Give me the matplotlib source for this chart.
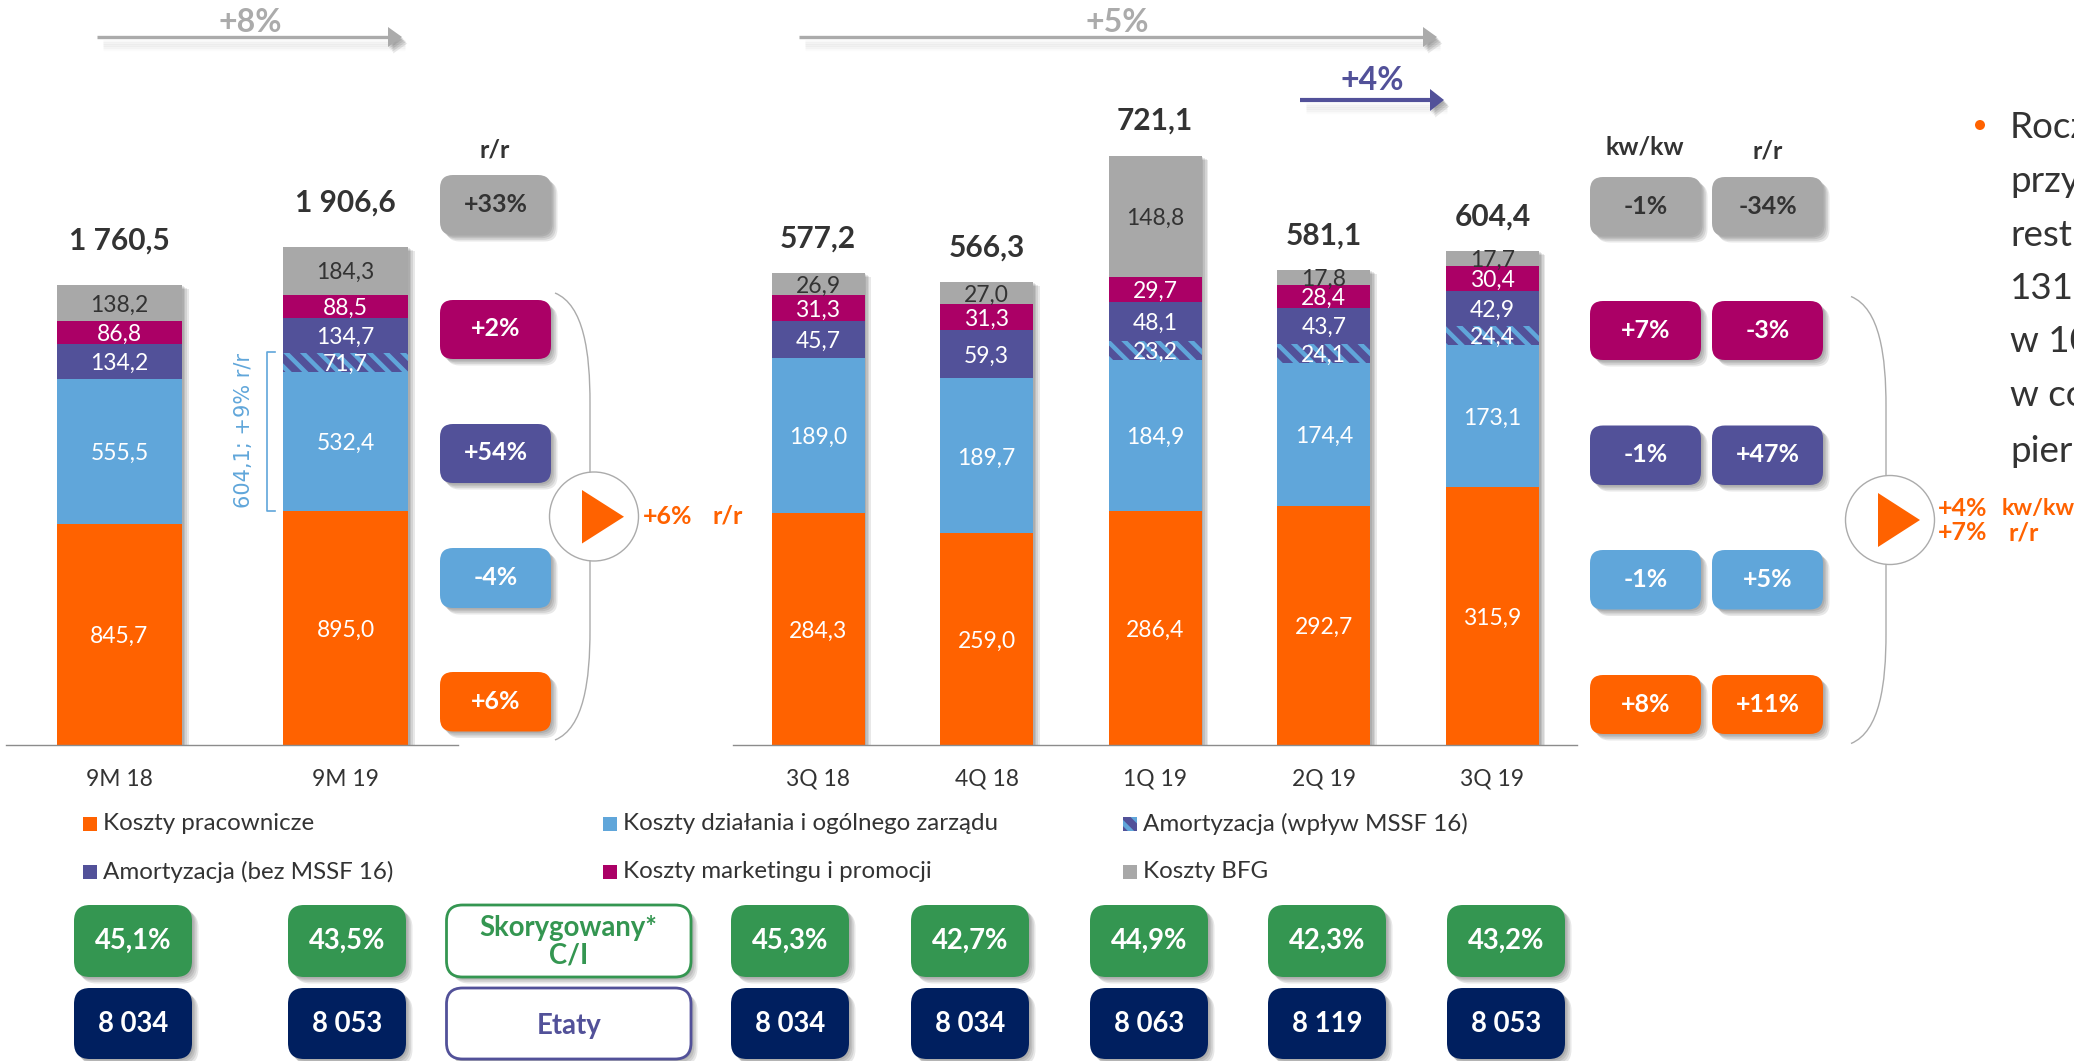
import matplotlib
matplotlib.use("Agg")
import matplotlib.pyplot as plt
from matplotlib.patches import FancyBboxPatch, Circle, Polygon, PathPatch, Rectangle
from matplotlib.path import Path
import matplotlib.patheffects as pe

FONT = "Lato"
plt.rcParams["font.family"] = [FONT, "DejaVu Sans"]
plt.rcParams["hatch.linewidth"] = 3.2

W, H = 2074, 1061
px = 72 / 100  # pixels to points

# ---------- data ----------
left_cats = ["9M 18", "9M 19"]
left_pers = [845.7, 895.0]
left_admin = [555.5, 532.4]
left_mssf = [0, 71.7]
left_amort = [134.2, 134.7]
left_mark = [86.8, 88.5]
left_bfg = [138.2, 184.3]
left_totals = ["1 760,5", "1 906,6"]

right_cats = ["3Q 18", "4Q 18", "1Q 19", "2Q 19", "3Q 19"]
right_pers = [284.3, 259.0, 286.4, 292.7, 315.9]
right_admin = [189.0, 189.7, 184.9, 174.4, 173.1]
right_mssf = [0, 0, 23.2, 24.1, 24.4]
right_amort = [45.7, 59.3, 48.1, 43.7, 42.9]
right_mark = [31.3, 31.3, 29.7, 28.4, 30.4]
right_bfg = [26.9, 27.0, 148.8, 17.8, 17.7]
right_totals = ["577,2", "566,3", "721,1", "581,1", "604,4"]

left_rr = ["+33%", "+2%", "+54%", "-4%", "+6%"]
right_kk = ["-1%", "+7%", "-1%", "-1%", "+8%"]
right_rr = ["-34%", "-3%", "+47%", "+5%", "+11%"]
ci_vals = ["45,1%", "43,5%", "45,3%", "42,7%", "44,9%", "42,3%", "43,2%"]
fte_vals = ["8 034", "8 053", "8 034", "8 034", "8 063", "8 119", "8 053"]
legend_labels = ["Koszty pracownicze", "Koszty działania i ogólnego zarządu", "Amortyzacja (wpływ MSSF 16)",
                 "Amortyzacja (bez MSSF 16)", "Koszty marketingu i promocji", "Koszty BFG"]
side_lines = ["Rocz", "przy", "rest", "131", "w 10", "w co", "pier"]

ORANGE, BLUE, PURPLE, MAGENTA, GRAY = "#FF6200", "#60A6DA", "#525199", "#AB0066", "#A8A8A8"
GREEN, NAVY, TXT = "#349651", "#001F5F", "#333333"

fig = plt.figure(figsize=(W / 100, H / 100), dpi=100, facecolor="white")


def soft(dx=4, dy=4, n=4, a=0.09):
    eff = []
    for i in range(n, 0, -1):
        f = i / n
        eff.append(pe.SimplePatchShadow(offset=(dx * f * px * 1.3, -dy * f * px * 1.3), shadow_rgbFace="k", alpha=a, rho=1))
    eff.append(pe.Normal())
    return eff


def stacked(x0, x1, base_y, cats, unit_px, spacing, c0, series, totals, tot_off):
    ax = fig.add_axes([x0 / W, 1 - base_y / H, (x1 - x0) / W, base_y / H], facecolor="none")
    ax.set_xlim((x0 - c0) / spacing, (x1 - c0) / spacing)
    ax.set_ylim(0, base_y / unit_px)
    xs = list(range(len(cats)))
    bw = (125 if spacing > 200 else 93) / spacing
    grand = [sum(v) for v in zip(*[s[0] for s in series])]
    ax.bar(xs, grand, bw, color=GRAY, zorder=1, path_effects=soft(5, 3))
    bottom = [0] * len(cats)
    for vals, col, tcol, hatch in series:
        if hatch:
            plt.rcParams["hatch.color"] = BLUE
            ax.bar(xs, vals, bw, bottom=bottom, color=PURPLE, edgecolor=BLUE, hatch="\\\\", linewidth=0, zorder=2)
        else:
            ax.bar(xs, vals, bw, bottom=bottom, color=col, linewidth=0, zorder=2)
        for i, v in enumerate(vals):
            if v:
                ax.text(i, bottom[i] + v / 2, f"{v:.1f}".replace(".", ","), color=tcol, fontsize=16.5,
                        ha="center", va="center_baseline", zorder=5)
        bottom = [b + v for b, v in zip(bottom, vals)]
    for i, t in enumerate(totals):
        ax.annotate(t, (i, grand[i]), xytext=(0, tot_off * px), textcoords="offset points",
                    ha="center", va="center", fontsize=21.5, fontweight="bold", color=TXT, zorder=5)
    ax.set_xticks(xs, cats, fontsize=16.5, color=TXT)
    ax.tick_params(axis="x", length=0, pad=17)
    ax.set_yticks([])
    for s in ["top", "left", "right"]:
        ax.spines[s].set_visible(False)
    ax.spines["bottom"].set_color("#8C8C8C")
    ax.spines["bottom"].set_linewidth(1.0)
    return ax


stacked(6, 458, 745, left_cats, 0.2614, 226, 119.5,
        [(left_pers, ORANGE, "white", False), (left_admin, BLUE, "white", False), (left_mssf, PURPLE, "white", True),
         (left_amort, PURPLE, "white", False), (left_mark, MAGENTA, "white", False), (left_bfg, GRAY, TXT, False)],
        left_totals, 44)
stacked(733, 1577, 745, right_cats, 0.817, 168.6, 818,
        [(right_pers, ORANGE, "white", False), (right_admin, BLUE, "white", False), (right_mssf, PURPLE, "white", True),
         (right_amort, PURPLE, "white", False), (right_mark, MAGENTA, "white", False), (right_bfg, GRAY, TXT, False)],
        right_totals, 35)

# pixel overlay
ov = fig.add_axes([0, 0, 1, 1], facecolor="none")
ov.set_xlim(0, W)
ov.set_ylim(H, 0)
ov.axis("off")


def pill(x0, y0, x1, y1, fc, txt, tc="white", fs=18, ec="none", lw=0, r=13, shadow=(5, 5), ls=1.05, dy=-2.5):
    p = FancyBboxPatch((x0 + r, y0 + r), x1 - x0 - 2 * r, y1 - y0 - 2 * r, boxstyle=f"round,pad={r},rounding_size={r}",
                       fc=fc, ec=ec, lw=lw, zorder=3, path_effects=soft(*shadow))
    ov.add_patch(p)
    ov.text((x0 + x1) / 2, (y0 + y1) / 2 + dy, txt, color=tc, fontsize=fs, fontweight="bold",
            ha="center", va="center_baseline", zorder=4, linespacing=ls)


fills = [GRAY, MAGENTA, PURPLE, BLUE, ORANGE]
tcs = [TXT, "white", "white", "white", "white"]
for (y0, y1), f, tc, t in zip([(175, 235), (300, 359), (424, 483), (548, 608), (672, 731.5)], fills, tcs, left_rr):
    pill(440, y0, 551, y1, f, t, tc)
rows = [(177, 236), (301, 360), (425.5, 485), (550, 609.5), (675, 734)]
for (y0, y1), f, tc, a, b in zip(rows, fills, tcs, right_kk, right_rr):
    pill(1590, y0, 1701, y1, f, a, tc)
    pill(1712, y0, 1823, y1, f, b, tc)

for x, y, t in [(495, 150, "r/r"), (1645, 147, "kw/kw"), (1768, 151, "r/r")]:
    ov.text(x, y, t, fontsize=18, fontweight="bold", color=TXT, ha="center", va="center")


def brace(x_end, x_v, y0, y1, cy):
    v = [(x_end, y0), (x_v - 6, y0 + 12), (x_v, y0 + 60), (x_v, y0 + 110), (x_v, y1 - 110), (x_v, y1 - 60), (x_v - 6, y1 - 12), (x_end, y1)]
    c = [Path.MOVETO, Path.CURVE4, Path.CURVE4, Path.CURVE4, Path.LINETO, Path.CURVE4, Path.CURVE4, Path.CURVE4]
    ov.add_patch(PathPatch(Path(v, c), fc="none", ec="#ABABAB", lw=1.0, zorder=3))


def play(cx, cy, r, tx0, tx1, ty0, ty1):
    ov.add_patch(Circle((cx, cy), r, fc="white", ec="#ABABAB", lw=1.0, zorder=3.2))
    ov.add_patch(Polygon([(tx0, ty0), (tx1, (ty0 + ty1) / 2), (tx0, ty1)], fc=ORANGE, ec="none", zorder=3.3))


brace(555, 590, 293, 740, 516)
play(594, 516.5, 44.5, 582, 624, 490, 543.5)
brace(1851, 1886, 296.5, 743.5, 520)
play(1890, 520, 44.5, 1878, 1920, 493, 547)

for x, y, t, fs in [(643, 516.5, "+6%", 18), (712, 516.5, "r/r", 18), (1938, 508, "+4%", 18),
                    (2002, 508, "kw/kw", 16.8), (1938, 533, "+7%", 18), (2009, 533, "r/r", 18)]:
    ov.text(x, y, t, fontsize=fs, fontweight="bold", color=ORANGE, ha="left", va="center")


def arrow(x0, x1, y, col, txt, tx, ty, lw=2.4, head=14, hw=10):
    for i, a in zip([4, 6, 8, 10, 12], [0.02, 0.035, 0.04, 0.03, 0.015]):
        ov.plot([x0 + 6, x1 + 3], [y + i, y + i], color="k", alpha=a, lw=2.5, solid_capstyle="butt", zorder=1)
    ov.plot([x0, x1 - head], [y, y], color=col, lw=lw, solid_capstyle="butt", zorder=3)
    ov.add_patch(Polygon([(x1 - head, y - hw), (x1, y), (x1 - head, y + hw)], fc=col, ec="none", zorder=3, path_effects=soft(4, 5)))
    ov.text(tx, ty, txt, color=col, fontsize=23, fontweight="bold", ha="center", va="center")


arrow(97, 402, 37, "#ABABAB", "+8%", 250, 23)
arrow(799, 1437, 37, "#ABABAB", "+5%", 1117, 23)
arrow(1300, 1444, 100, PURPLE, "+4%", 1372.5, 81, lw=3, hw=11)

# MSSF 16 bracket
ov.plot([275, 267, 267, 275], [351.5, 351.5, 511, 511], color=BLUE, lw=1.2, zorder=3)
ov.text(244, 431, "604,1; +9% r/r", color=BLUE, fontsize=15, rotation=90, ha="center", va="center", family="DejaVu Sans")

# legend
lx = [(83, 103), (603, 623), (1123, 1143)]
ly = [824, 871.5]
leg_cols = [ORANGE, BLUE, None, PURPLE, MAGENTA, GRAY]
for i, (lab, col) in enumerate(zip(legend_labels, leg_cols)):
    sx, tx = lx[i % 3]
    y = ly[i // 3]
    if col is None:
        ov.add_patch(Rectangle((sx, y - 7), 14, 14, fc=PURPLE, ec=BLUE, hatch="\\\\", lw=0, zorder=3))
    else:
        ov.add_patch(Rectangle((sx, y - 7), 14, 14, fc=col, ec="none", zorder=3))
    ov.text(tx, y, lab, fontsize=17.4, color=TXT, ha="left", va="center")

# bottom boxes
pill_c = [133, 347, 790, 970, 1149, 1327, 1506]
for c, a, b in zip(pill_c, ci_vals, fte_vals):
    pill(c - 59, 905, c + 59, 977, GREEN, a, fs=19.8, r=16)
    pill(c - 59, 988, c + 59, 1059, NAVY, b, fs=19.8, r=16)
pill(446.5, 905, 691, 977, "white", "Skorygowany*\nC/I", GREEN, fs=19.8, ec=GREEN, lw=2, r=16)
pill(446.5, 988, 691, 1059, "white", "Etaty", PURPLE, fs=19.8, ec=PURPLE, lw=2, r=16, dy=0)

# side text
ov.add_patch(Circle((1980, 125), 5, fc=ORANGE, ec="none"))
for y, t in zip([128, 181, 235, 288.6, 342, 396, 451], side_lines):
    ov.text(2010, y, t, fontsize=26.5, color=TXT, ha="left", va="center", clip_on=True)

fig.savefig("out.png", dpi=100)
